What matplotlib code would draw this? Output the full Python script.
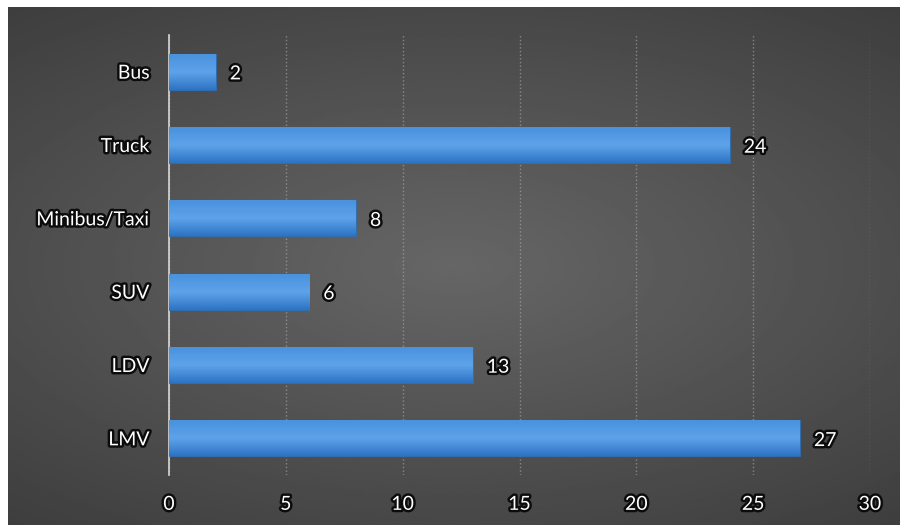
import numpy as np
import matplotlib.pyplot as plt
import matplotlib.patheffects as pe
from matplotlib.colors import LinearSegmentedColormap

# data (bottom to top in the chart)
categories = ["LMV", "LDV", "SUV", "Minibus/Taxi", "Truck", "Bus"]
counts = [27, 13, 6, 8, 24, 2]
x_ticks = [0, 5, 10, 15, 20, 25, 30]

plt.rcParams['font.family'] = ['Lato', 'DejaVu Sans']

fig = plt.figure(figsize=(9, 5.29), dpi=100)
fig.patch.set_facecolor('white')

# gray backdrop with a soft lighter centre
bg = fig.add_axes([8/900, 4/529, 892/900, 518/529])
bg.set_axis_off()
yy, xx = np.mgrid[-1:1:200j, -1:1:300j]
r = np.sqrt((xx*0.9)**2 + (yy*1.1)**2)
shade = 0.40 - 0.11*np.clip(r, 0, 1.4)
bg.imshow(shade, cmap='gray', vmin=0, vmax=1, aspect='auto', extent=(0, 1, 0, 1))

ax = fig.add_axes([169/900, 1 - 475/529, 701/900, 440/529])
ax.patch.set_alpha(0)

ypos = np.arange(len(categories))
bars = ax.barh(ypos, counts, height=0.49, color='#4a8fd8', edgecolor='#2f6cb0', linewidth=0.6, zorder=3)

# vertical gradient on each bar
grad = np.linspace(0, 1, 50).reshape(-1, 1)
bcmap = LinearSegmentedColormap.from_list('b', ['#2d74c4', '#5ea3ea', '#4a92de'])
for b in bars:
    x0, y0 = b.get_x(), b.get_y()
    im = ax.imshow(grad, cmap=bcmap, aspect='auto', zorder=3.5,
                   extent=(x0, x0 + b.get_width(), y0, y0 + b.get_height()), origin='lower')
    im.set_clip_path(b)

outline = [pe.withStroke(linewidth=3.5, foreground='#0c0c0c')]
for y, v in zip(ypos, counts):
    ax.text(v + 0.6, y - 0.03, str(v), va='center', ha='left', color='white',
            fontsize=14, path_effects=outline, zorder=5)

ax.set_xlim(0, 30)
ax.set_ylim(-0.5, len(categories) - 0.5)
ax.set_xticks(x_ticks)
ax.set_yticks(ypos)
ax.set_yticklabels(categories)
for lab in ax.get_xticklabels() + ax.get_yticklabels():
    lab.set_color('white')
    lab.set_fontsize(14)
    lab.set_path_effects(outline)
ax.tick_params(length=0)
ax.tick_params(axis='x', pad=15)
ax.tick_params(axis='y', pad=14)

ax.grid(axis='x', color='#b0b0b0', linestyle=':', linewidth=1.0, alpha=0.6, zorder=1)
for s in ['top', 'right', 'bottom']:
    ax.spines[s].set_visible(False)
ax.spines['left'].set_color('#d8d8d8')
ax.spines['left'].set_linewidth(1.2)

fig.savefig('out.png', dpi=100)
